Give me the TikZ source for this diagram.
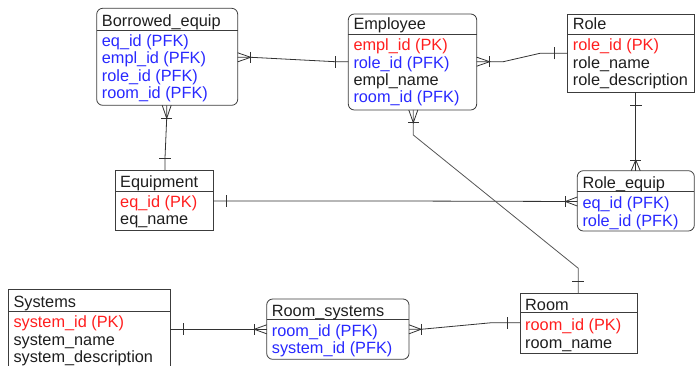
\documentclass[tikz,border=0pt]{standalone}
\usepackage{fontspec}
\setmainfont{Liberation Sans}
\definecolor{boxc}{RGB}{60,60,60}
\definecolor{connc}{RGB}{50,50,50}
\definecolor{connl}{RGB}{85,85,85}
\definecolor{pkred}{RGB}{255,30,30}
\definecolor{fkblue}{RGB}{40,40,255}
\definecolor{blk}{RGB}{30,30,30}
\begin{document}
\begin{tikzpicture}[x=1pt,y=-1pt,
  font=\fontsize{16.3}{17.5}\selectfont,
  ent/.style={draw=boxc, line width=0.8pt, inner sep=0pt, outer sep=0pt, anchor=north west},
  rent/.style={ent, rounded corners=6pt},
  hdr/.style={draw=boxc, line width=0.8pt},
  ttl/.style={anchor=base west, inner sep=0pt, text=blk, yshift=-1pt},
  att/.style={anchor=base west, inner sep=0pt, text=blk, yshift=-1.5pt},
  pk/.style={att, text=pkred},
  fk/.style={att, text=fkblue},
  conn/.style={draw=connc, line width=0.8pt},
  pics/crow/.style={code={\draw[conn] (0,-4.5) -- (#1,0) -- (0,4.5); \draw[conn] (#1,-5.5) -- (#1,5.5);}},
  pics/onebar/.style={code={\draw[conn] (#1,-6) -- (#1,6);}}
]
\useasboundingbox (0,0) rectangle (695,366);

% Borrowed_equip
\node[rent, minimum width=141pt, minimum height=97pt] (be) at (96.7,8.3) {};
\draw[hdr] (be.west |- 0,30) -- (be.east |- 0,30);
\node[ttl] (bet) at (101.7,26) {Borrowed\_equip};
\node[fk] (be1) at (101.7,45) {eq\_id (PFK)};
\node[fk] (be2) at (101.7,62.5) {empl\_id (PFK)};
\node[fk] (be3) at (101.7,80) {role\_id (PFK)};
\node[fk] (be4) at (101.7,97.5) {room\_id (PFK)};

% Employee
\node[rent, minimum width=128.4pt, minimum height=96pt] (emp) at (348.3,14) {};
\draw[hdr] (emp.west |- 0,34.3) -- (emp.east |- 0,34.3);
\node[ttl] (empt) at (353.3,29) {Employee};
\node[pk] (emp1) at (353.3,49.3) {empl\_id (PK)};
\node[fk] (emp2) at (353.3,66.7) {role\_id (PFK)};
\node[att] (emp3) at (353.3,84) {empl\_name};
\node[fk] (emp4) at (353.3,101.5) {room\_id (PFK)};

% Role
\node[ent, minimum width=126.8pt, minimum height=78.3pt] (role) at (567.7,14) {};
\draw[hdr] (role.west |- 0,34.3) -- (role.east |- 0,34.3);
\node[ttl] (rolet) at (572.7,29) {Role};
\node[pk] (role1) at (572.7,49.3) {role\_id (PK)};
\node[att] (role2) at (572.7,66.7) {role\_name};
\node[att] (role3) at (572.7,84) {role\_description};

% Equipment
\node[ent, minimum width=98.3pt, minimum height=60pt] (eqp) at (115,170) {};
\draw[hdr] (eqp.west |- 0,191.7) -- (eqp.east |- 0,191.7);
\node[ttl] (eqpt) at (120,186.7) {Equipment};
\node[pk] (eqp1) at (120,205.7) {eq\_id (PK)};
\node[att] (eqp2) at (120,223.3) {eq\_name};

% Role_equip
\node[rent, minimum width=117pt, minimum height=60.3pt] (re) at (577.3,170.7) {};
\draw[hdr] (re.west |- 0,191) -- (re.east |- 0,191);
\node[ttl] (ret) at (582.3,187.3) {Role\_equip};
\node[fk] (re1) at (582.3,207) {eq\_id (PFK)};
\node[fk] (re2) at (582.3,224.5) {role\_id (PFK)};

% Systems (cut by the lower edge)
\node[inner sep=0pt, outer sep=0pt, anchor=north west, minimum width=161.7pt, minimum height=76.7pt] (sys) at (8.3,289.3) {};
\draw[hdr] (sys.south west) -- (sys.north west) -- (sys.north east) -- (sys.south east);
\draw[hdr] (sys.west |- 0,311) -- (sys.east |- 0,311);
\node[ttl] (syst) at (13.3,306) {Systems};
\node[pk] (sys1) at (13.3,326) {system\_id (PK)};
\node[att] (sys2) at (13.3,343.5) {system\_name};
\node[att] (sys3) at (13.3,361) {system\_description};

% Room_systems
\node[rent, minimum width=142.3pt, minimum height=60.3pt] (rs) at (266.7,299) {};
\draw[hdr] (rs.west |- 0,319) -- (rs.east |- 0,319);
\node[ttl] (rst) at (271.7,315) {Room\_systems};
\node[fk] (rs1) at (271.7,335) {room\_id (PFK)};
\node[fk] (rs2) at (271.7,352) {system\_id (PFK)};

% Room
\node[ent, minimum width=117.3pt, minimum height=60pt] (room) at (520,293.3) {};
\draw[hdr] (room.west |- 0,312.7) -- (room.east |- 0,312.7);
\node[ttl] (roomt) at (525,309) {Room};
\node[pk] (room1) at (525,329) {room\_id (PK)};
\node[att] (room2) at (525,346.7) {room\_name};

% Connectors
% Borrowed_equip -- Employee
\draw[conn] (be.east |- 0,57.3) -- (251,57.3) -- (335,61.7) -- (emp.west |- 0,61.7);
\pic at (be.east |- 0,57.3) {crow=13};
\pic[rotate=180] at (emp.west |- 0,61.7) {onebar=13};
% Employee -- Role
\draw[conn] (emp.east |- 0,61.7) -- (503.3,61.7) -- (540,53.3) -- (role.west |- 0,53.3);
\pic at (emp.east |- 0,61.7) {crow=13};
\pic[rotate=180] at (role.west |- 0,53.3) {onebar=13};
% Borrowed_equip -- Equipment
\draw[conn] (be.south -| 166.7,0) -- (166.7,118.3) -- (165,158) -- (eqp.north -| 165,0);
\pic[rotate=-90] at (be.south -| 166.7,0) {crow=13};
\pic[rotate=90] at (eqp.north -| 165,0) {onebar=12};
% Equipment -- Role_equip
\draw[conn] (eqp.east |- 0,201) -- (397,201) -- (re.west |- 0,201.5);
\pic at (eqp.east |- 0,201) {onebar=13};
\pic[rotate=180] at (re.west |- 0,201.5) {crow=12};
% Role -- Role_equip
\draw[conn] (role.south -| 635.7,0) -- (re.north -| 635.7,0);
\pic[rotate=-90] at (role.south -| 635.7,0) {onebar=12.7};
\pic[rotate=90] at (re.north -| 635.7,0) {crow=10.7};
% Employee -- Room
\draw[conn, draw=connl] (emp.south -| 413.3,0) -- (413.3,135) -- (578.3,268.3) -- (room.north -| 578.3,0);
\pic[rotate=-90] at (emp.south -| 413.3,0) {crow=12.7};
\pic[rotate=90] at (room.north -| 578.3,0) {onebar=11.6};
% Systems -- Room_systems
\draw[conn] (sys.east |- 0,329.3) -- (rs.west |- 0,329.3);
\pic at (sys.east |- 0,329.3) {onebar=13};
\pic[rotate=180] at (rs.west |- 0,329.3) {crow=12.5};
% Room_systems -- Room
\draw[conn] (rs.east |- 0,329.3) -- (421,329.3) -- (491.7,322.7) -- (room.west |- 0,322.7);
\pic at (rs.east |- 0,329.3) {crow=12};
\pic[rotate=180] at (room.west |- 0,322.7) {onebar=12.7};
\end{tikzpicture}
\end{document}
